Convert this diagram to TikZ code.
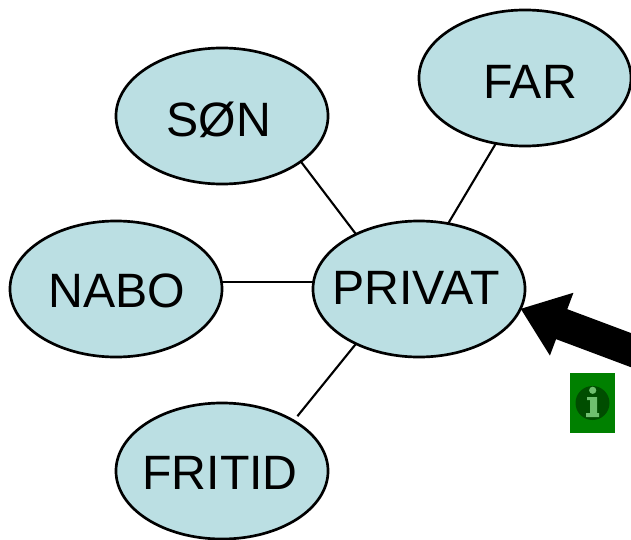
\documentclass[tikz,border=0pt]{standalone}
\usepackage{fontspec}
\setmainfont{Liberation Sans}
\usepackage{xcolor}
\usetikzlibrary{arrows.meta}
\usetikzlibrary{shapes.geometric}

\definecolor{bubblefill}{HTML}{BBDFE3}
\definecolor{infogreen}{HTML}{008000}
\definecolor{infodark}{HTML}{004D00}
\definecolor{infolight}{HTML}{6FBF6F}

\tikzset{
    bubble/.style={draw,ellipse,fill=bubblefill,line width=1.9pt,inner sep=-1cm,outer sep=0pt,
        minimum width=5.3cm,minimum height=3.4cm,font=\fontsize{34.3}{40}\selectfont},
    spoke/.style={line width=1.5pt},
    pointer/.style={line width=0.8cm,-{Triangle[length=1.1cm,width=1.6cm]}}
}

\begin{document}
\begin{tikzpicture}[x=0.025cm,y=-0.025cm]
    \clip (0,0) rectangle (631,539);

    \node[bubble,text depth=0.05cm] (privat) at (419, 289) {PRIVAT\kern0.15cm};
    \node[bubble,text height=1.03cm] (far) at (525, 78) {\hspace{0.25cm}FAR};
    \node[bubble,text height=1.05cm] (son) at (222, 116) {SØN\kern0.15cm};
    \node[bubble,text height=0.93cm] (nabo) at (116, 289) {\hspace{0.05cm}NABO};
    \node[bubble,text height=0.93cm] (fritid) at (222, 471) {FRITID\kern0.1cm};

    \draw[spoke] (son.-30)   -- (privat.139);
    \draw[spoke] (far.246)   -- (privat.66);
    \draw[spoke] (nabo.4)    -- (privat.176);
    \draw[spoke,shorten <=0.15cm] (fritid.35) -- (privat.221);

    \coordinate (tail) at (660, 361);
    \draw[pointer] (tail) -- (privat.-11.6);

    % info icon
    \fill[infogreen] (570, 373) rectangle (615, 433);
    \fill[infodark] (592.5, 403) circle [radius=0.425cm];
    \fill[infolight] (592.7, 390.3) circle [radius=0.09cm];
    \fill[infolight] (587, 397) -- (597, 397) -- (597, 413) -- (599, 413) -- (599, 417)
        -- (586, 417) -- (586, 413) -- (590, 413) -- (590, 400) -- (587, 400) -- cycle;
\end{tikzpicture}
\end{document}
